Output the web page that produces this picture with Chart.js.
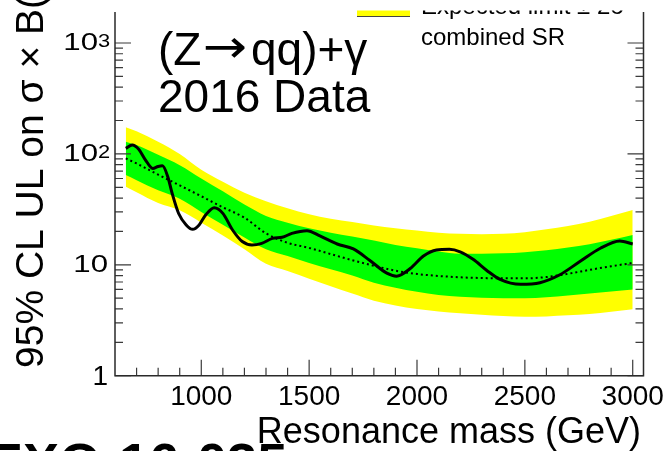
<!DOCTYPE html>
<html>
<head>
<meta charset="utf-8">
<script src="https://cdn.jsdelivr.net/npm/chart.js@4.4.1/dist/chart.umd.min.js"></script>
<style>
  html, body { margin: 0; padding: 0; background: #fff; }
  #limitChart { display: block; }
</style>
</head>
<body>
<canvas id="limitChart" width="666" height="451"></canvas>
<script>
// Mass points of the expected bands (GeV)
const bandMass = [650, 700, 800, 900, 1000, 1100, 1200, 1300, 1400, 1500, 1600, 1700, 1800,
                  1900, 2000, 2100, 2200, 2300, 2400, 2500, 2600, 2700, 2800, 2900, 3000];
const yellowHigh = [174, 160, 129, 100, 72, 56, 44.7, 37.5, 32.4, 28.5, 26, 24.3, 22.6,
                    21.4, 20.4, 19.5, 19.05, 18.9, 19.05, 19.7, 20.9, 22.4, 24.5, 27.5, 31.2];
const greenHigh = [129, 120, 98, 79, 60, 46, 35, 27.6, 24, 21.4, 19.5, 18, 16.6,
                   15.1, 14.1, 13.2, 12.6, 12.6, 12.7, 13.0, 13.5, 14.3, 15.3, 16.8, 18.6];
const expectedMedian = [91, 82, 65, 52, 41.5, 33, 26.6, 19.2, 15.8, 14.2, 12.5, 11.0, 9.8,
                        8.85, 8.26, 7.93, 7.71, 7.6, 7.55, 7.55, 7.75, 8.3, 9.0, 9.7, 10.4];
const greenLow = [64.5, 58, 47, 39.5, 30, 23, 17.6, 13.8, 12.0, 10.4, 9.1, 8.0, 6.9,
                  6.2, 5.7, 5.35, 5.15, 5.05, 5.0, 5.0, 5.1, 5.3, 5.5, 5.75, 6.0];
const yellowLow = [50.6, 45, 36, 31, 24, 18.4, 13.8, 10.2, 8.8, 7.5, 6.4, 5.5, 4.75,
                   4.3, 4.0, 3.8, 3.65, 3.55, 3.45, 3.4, 3.42, 3.5, 3.6, 3.78, 3.97];

// Observed limit
const obsMass = [650, 680, 710, 740, 775, 800, 820, 845, 865, 895, 930, 960, 990, 1020, 1060,
                 1100, 1145, 1190, 1235, 1280, 1330, 1375, 1420, 1490, 1550, 1630, 1705, 1780,
                 1860, 1905, 1970, 2030, 2090, 2150, 2200, 2260, 2325, 2385, 2480, 2570, 2660,
                 2755, 2850, 2940, 3000];
const obsLimit = [112, 120, 110, 89, 74, 77, 78, 62, 44, 29, 22.9, 20.9, 22.9, 28.1, 32.7,
                  29.1, 20.6, 16.2, 15.1, 15.6, 17.3, 17.7, 19.2, 20.3, 18.2, 15.4, 13.9, 11.0,
                  8.4, 7.9, 9.3, 12.0, 13.6, 13.8, 13.1, 11.2, 8.85, 7.4, 6.67, 6.9, 8.09,
                  10.7, 14.1, 16.4, 15.4];

// Axis ticks
const xTickValues = [1000, 1500, 2000, 2500, 3000];
const yTickValues = [1, 10, 100, 1000];
const yTickLabels = ['1', '10', '10^2', '10^3'];

const FONT = '"Liberation Sans", Arial, Helvetica, sans-serif';
const X_MIN = 600, X_MAX = 3050;
const Y_MIN = 1, Y_MAX = 1903;

function pts(xs, ys) {
    return xs.map((x, i) => ({ x: x, y: ys[i] }));
}

// frame, inward ticks and all the ROOT-style text
const rootFrame = {
    id: 'rootFrame',
    afterDatasetsDraw(chart) {
        const c = chart.ctx;
        const a = chart.chartArea;
        const xs = chart.scales.x, ys = chart.scales.y;

        c.save();
        c.strokeStyle = '#3a3a3a';
        c.lineWidth = 1.2;
        // y ticks, left and right
        for (const d of [1, 10, 100, 1000]) {
            for (let k = 1; k <= 9; k++) {
                const v = k * d;
                if (v > Y_MAX) break;
                const py = ys.getPixelForValue(v);
                const len = k === 1 ? 16 : 8;
                c.beginPath();
                c.moveTo(a.left, py); c.lineTo(a.left + len, py);
                c.moveTo(a.right, py); c.lineTo(a.right - len, py);
                c.stroke();
            }
        }
        // x ticks
        for (let m = 700; m <= 3000; m += 100) {
            const px = xs.getPixelForValue(m);
            const len = m % 500 === 0 ? 16 : 8;
            c.beginPath();
            c.moveTo(px, a.bottom); c.lineTo(px, a.bottom - len);
            c.stroke();
        }
        // axes
        c.strokeStyle = '#2a2a2a';
        c.lineWidth = 1.5;
        c.beginPath();
        c.moveTo(a.left, a.top); c.lineTo(a.left, a.bottom); c.lineTo(a.right, a.bottom); c.lineTo(a.right, a.top);
        c.stroke();
        c.restore();
    },
    afterDraw(chart) {
        const c = chart.ctx;
        const ys = chart.scales.y;
        c.save();
        c.fillStyle = '#000';

        // y tick labels (the 10^n ones are set wide, like the TLatex output)
        yTickValues.forEach((v, i) => {
            const py = ys.getPixelForValue(v);
            const parts = yTickLabels[i].split('^');
            if (parts[0] === '1') {
                c.font = '28px ' + FONT;
                c.textAlign = 'right';
                c.textBaseline = 'middle';
                c.fillText('1', 108, py + 2);
                return;
            }
            const baseRight = parts[1] ? 98 : 108;
            c.save();
            c.translate(baseRight, py + 7.2);
            c.scale(1.3, 1);
            c.font = '24px ' + FONT;
            c.textAlign = 'right';
            c.textBaseline = 'alphabetic';
            c.fillText(parts[0], 0, 0);
            c.restore();
            if (parts[1]) {
                c.save();
                c.translate(baseRight, py - 1.3);
                c.scale(1.15, 1);
                c.font = '19px ' + FONT;
                c.textAlign = 'left';
                c.fillText(parts[1], 0, 0);
                c.restore();
            }
        });

        // axis titles
        c.font = '36px ' + FONT;
        c.textAlign = 'right';
        c.textBaseline = 'alphabetic';
        c.fillText('Resonance mass (GeV)', 641, 443);

        c.save();
        c.translate(43, 368);
        c.rotate(-Math.PI / 2);
        c.font = '39px ' + FONT;
        c.textAlign = 'left';
        c.fillText('95% CL UL on \u03c3 \u00d7 B(X\u2192Z\u03b3) (fb)', 0, 0);
        c.restore();

        // channel labels; the arrow comes from DejaVu, which has a longer one
        c.textAlign = 'left';
        c.font = '46px ' + FONT;
        c.fillText('(Z', 158, 65);
        c.save();
        c.translate(203, 62);
        c.scale(1.15, 1);
        c.font = '46px "DejaVu Sans"';
        c.fillText('\u2192', 0, 0);
        c.restore();
        c.font = '46px ' + FONT;
        c.fillText('qq)+\u03b3', 251, 65);
        c.fillText('2016 Data', 158, 111.7);

        // legend: only the lower part of the first entry is in view
        c.save();
        c.beginPath();
        c.rect(0, 10.5, 666, 20);
        c.clip();
        c.fillStyle = '#ffff00';
        c.fillRect(357, 10, 53, 6.5);
        c.strokeStyle = '#444';
        c.lineWidth = 1;
        c.beginPath();
        c.moveTo(357, 16.5); c.lineTo(410, 16.5);
        c.stroke();
        c.fillStyle = '#000';
        c.font = '24px ' + FONT;
        c.fillText('Expected limit \u00b1 2\u03c3', 421, 13.5);
        c.restore();
        c.font = '24px ' + FONT;
        c.fillText('combined SR', 421, 45);

        // analysis tag at the bottom edge
        c.font = 'bold 54px ' + FONT;
        c.fillText('EXO-16-035', -13, 481);
        c.restore();
    }
};

const ctx = document.getElementById('limitChart').getContext('2d');
new Chart(ctx, {
    type: 'line',
    data: {
        datasets: [
            {
                label: 'Observed',
                data: pts(obsMass, obsLimit),
                borderColor: '#000',
                borderWidth: 3,
                pointRadius: 0,
                cubicInterpolationMode: 'monotone',
                fill: false
            },
            {
                label: 'Expected',
                data: pts(bandMass, expectedMedian),
                borderColor: '#000',
                borderWidth: 2,
                borderDash: [2, 3],
                pointRadius: 0,
                cubicInterpolationMode: 'monotone',
                fill: false
            },
            {
                label: 'Expected +1 s.d.',
                data: pts(bandMass, greenHigh),
                borderColor: 'rgba(0,0,0,0)',
                borderWidth: 0,
                backgroundColor: '#00ff00',
                pointRadius: 0,
                cubicInterpolationMode: 'monotone',
                fill: '+1'
            },
            {
                label: 'Expected -1 s.d.',
                data: pts(bandMass, greenLow),
                borderColor: 'rgba(0,0,0,0)',
                borderWidth: 0,
                pointRadius: 0,
                cubicInterpolationMode: 'monotone',
                fill: false
            },
            {
                label: 'Expected +2 s.d.',
                data: pts(bandMass, yellowHigh),
                borderColor: 'rgba(0,0,0,0)',
                borderWidth: 0,
                backgroundColor: '#ffff00',
                pointRadius: 0,
                cubicInterpolationMode: 'monotone',
                fill: '+1'
            },
            {
                label: 'Expected -2 s.d.',
                data: pts(bandMass, yellowLow),
                borderColor: 'rgba(0,0,0,0)',
                borderWidth: 0,
                pointRadius: 0,
                cubicInterpolationMode: 'monotone',
                fill: false
            }
        ]
    },
    options: {
        responsive: false,
        animation: false,
        layout: { padding: { left: 0, right: 22.5, top: 12, bottom: 0 } },
        plugins: {
            legend: { display: false },
            tooltip: { enabled: false }
        },
        scales: {
            x: {
                type: 'linear',
                min: X_MIN,
                max: X_MAX,
                grid: { display: false, drawTicks: false },
                border: { display: false },
                afterBuildTicks(s) {
                    s.ticks = xTickValues.map(v => ({ value: v }));
                },
                afterFit(s) {
                    s.height = 75.3;
                    s.paddingLeft = 0;
                    s.paddingRight = 0;
                },
                ticks: {
                    color: '#000',
                    font: { family: FONT, size: 28 },
                    padding: 5,
                    maxRotation: 0,
                    autoSkip: false,
                    callback: v => String(v)
                }
            },
            y: {
                type: 'logarithmic',
                min: Y_MIN,
                max: Y_MAX,
                grid: { display: false, drawTicks: false },
                border: { display: false },
                afterBuildTicks(s) {
                    s.ticks = yTickValues.map(v => ({ value: v }));
                },
                afterFit(s) {
                    s.width = 115;
                    s.paddingTop = 0;
                    s.paddingBottom = 0;
                },
                ticks: { display: false }
            }
        }
    },
    plugins: [rootFrame]
});
</script>
</body>
</html>
